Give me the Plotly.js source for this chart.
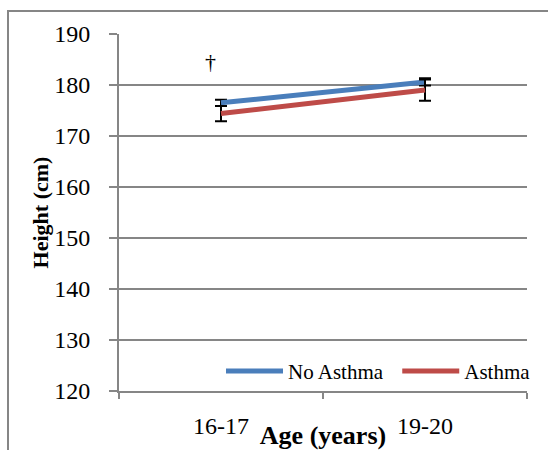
<!DOCTYPE html>
<html>
<head>
<meta charset="utf-8">
<script src="https://cdn.plot.ly/plotly-3.0.1.min.js"></script>
<style>
html,body{margin:0;padding:0;background:#fff;overflow:hidden;width:548px;height:450px;}
#frame{position:absolute;left:7px;top:10px;width:700px;height:700px;border:2px solid #868686;box-sizing:border-box;z-index:0;}
#chart{position:absolute;left:0;top:0;width:548px;height:450px;z-index:1;}
</style>
</head>
<body>
<div id="frame"></div>
<div id="chart"></div>
<script>
const ageGroups = ['16-17', '19-20'];
const noAsthma = [176.5, 180.6];
const noAsthmaErr = [0.6, 0.7];
const asthma = [174.4, 179.0];
const asthmaErr = [1.5, 2.1];
const yTicks = [120, 130, 140, 150, 160, 170, 180, 190];

const serif = 'Liberation Serif';
const traces = [
  {
    x: ageGroups, y: noAsthma, name: 'No Asthma', type: 'scatter', mode: 'lines', legend: 'legend',
    line: {color: '#4a7ebb', width: 5},
    error_y: {type: 'data', array: noAsthmaErr, visible: true, color: '#000', thickness: 2, width: 6}
  },
  {
    x: ageGroups, y: asthma, name: 'Asthma', type: 'scatter', mode: 'lines', legend: 'legend2',
    line: {color: '#be4b48', width: 5},
    error_y: {type: 'data', array: asthmaErr, visible: true, color: '#000', thickness: 2, width: 6}
  }
];

const legendBase = {
  orientation: 'h', xanchor: 'left', y: 0.055, yanchor: 'middle',
  font: {family: serif, size: 21, color: '#000'}, bgcolor: 'rgba(0,0,0,0)', itemwidth: 57
};

const layout = {
  width: 548, height: 450,
  margin: {l: 119, r: 12, t: 34, b: 59},
  paper_bgcolor: 'rgba(0,0,0,0)', plot_bgcolor: 'rgba(0,0,0,0)',
  font: {family: serif, color: '#000'},
  showlegend: true,
  legend: Object.assign({}, legendBase, {x: 0.25}),
  legend2: Object.assign({}, legendBase, {x: 0.682}),
  xaxis: {
    type: 'category', range: [-0.5, 1.5], tickson: 'boundaries',
    showline: true, linecolor: '#868686', linewidth: 2,
    ticks: 'outside', ticklen: 6, tickcolor: '#868686', tickwidth: 2,
    showgrid: false, zeroline: false,
    tickfont: {family: serif, size: 24, color: '#000'}, ticklabelstandoff: 12,
    title: {text: '<b>Age (years)</b>', font: {family: serif, size: 26, color: '#000'}, standoff: 0}
  },
  yaxis: {
    range: [120, 190], tickvals: yTicks, ticktext: yTicks.map(String),
    showline: true, linecolor: '#868686', linewidth: 2,
    ticks: 'outside', ticklen: 8, tickcolor: '#868686', tickwidth: 2,
    showgrid: true, gridcolor: '#868686', gridwidth: 2, zeroline: false,
    tickfont: {family: serif, size: 24, color: '#000'}, ticklabelstandoff: 14,
    title: {text: '<b>Height (cm)</b>', font: {family: serif, size: 22, color: '#000'}, standoff: 0}
  },
  annotations: [
    {x: '16-17', y: 184.7, xref: 'x', yref: 'y', text: '†', showarrow: false, xshift: -11,
     font: {family: serif, size: 22, color: '#000'}}
  ]
};

Plotly.newPlot('chart', traces, layout, {displayModeBar: false, staticPlot: true});
</script>
</body>
</html>
